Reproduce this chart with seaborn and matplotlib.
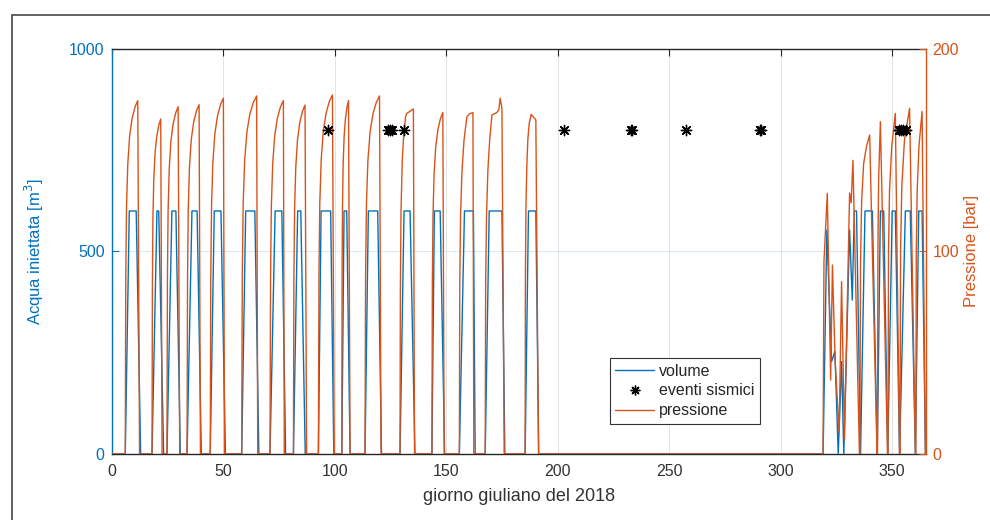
import matplotlib
matplotlib.use("Agg")
import matplotlib.pyplot as plt
from matplotlib.lines import Line2D
import seaborn as sns

sns.set_style("white")
plt.rcParams["font.family"] = ["Liberation Sans", "DejaVu Sans"]

BLUE = "#0072BD"
ORANGE = "#D95319"
DARK = "#262626"

# ---------------- data ----------------
# injected volume [m3]: day / value breakpoints
vol_day = [0, 6.1, 7.9, 11.0, 13.0,
           18.1, 20.3, 21.1, 23.3,
           24.8, 27.0, 28.8, 30.8,
           33.8, 36.0, 38.3, 40.2,
           44.2, 46.0, 49.0, 51.0,
           58.3, 60.1, 64.2, 66.0,
           71.0, 73.3, 76.3, 78.0,
           81.5, 83.4, 84.8, 86.8,
           92.7, 93.9, 98.2, 99.6,
           103.2, 104.2, 105.4, 106.9,
           113.6, 115.1, 119.3, 121.0,
           129.3, 131.1, 133.8, 136.0,
           143.6, 144.7, 147.3, 149.3,
           155.9, 158.2, 162.2, 163.0,
           167.5, 169.3, 175.0, 176.3,
           185.4, 186.9, 190.2, 191.5,
           319.0, 320.7, 322.8, 324.3, 325.8, 327.3, 328.3,
           330.9, 332.1, 333.0, 334.0, 335.8,
           337.8, 341.1, 343.3,
           344.7, 346.2, 348.0,
           350.0, 351.4, 353.3,
           355.9, 358.1, 360.4,
           361.9, 363.4, 364.9]
vol_m3 = [0, 0, 600, 600, 0,
          0, 600, 600, 0,
          0, 600, 600, 0,
          0, 600, 600, 0,
          0, 600, 600, 0,
          0, 600, 600, 0,
          0, 600, 600, 0,
          0, 600, 600, 0,
          0, 600, 600, 0,
          0, 600, 600, 0,
          0, 600, 600, 0,
          0, 600, 600, 0,
          0, 600, 600, 0,
          0, 600, 600, 0,
          0, 600, 600, 0,
          0, 600, 600, 0,
          0, 553, 228, 253, 0, 228, 0,
          553, 380, 600, 600, 0,
          600, 600, 0,
          600, 600, 0,
          600, 600, 0,
          600, 600, 0,
          600, 600, 0]

# well-head pressure [bar]: day / value breakpoints
press_day = [0,
             6.1, 6.32, 6.66, 7.22, 8.06, 9.18, 10.47, 11.7, 12.5,
             18.1, 18.26, 18.49, 18.88, 19.47, 20.25, 21.14, 22.0, 22.6,
             24.8, 25.0, 25.3, 25.8, 26.55, 27.55, 28.7, 29.8, 30.5,
             33.8, 34.02, 34.34, 34.88, 35.69, 36.77, 38.01, 39.2, 39.8,
             44.2, 44.44, 44.79, 45.38, 46.27, 47.45, 48.8, 50.1, 50.6,
             58.3, 58.57, 58.97, 59.64, 60.65, 61.99, 63.53, 65.0, 65.5,
             71.0, 71.24, 71.6, 72.2, 73.1, 74.3, 75.68, 77.0, 77.4,
             81.5, 81.71, 82.02, 82.54, 83.32, 84.36, 85.56, 86.7, 87.4,
             92.7, 92.95, 93.33, 93.96, 94.91, 96.17, 97.61, 99.0, 99.8,
             103.2, 103.32, 103.5, 103.8, 104.25, 104.85, 105.54, 106.2, 106.9,
             113.6, 113.86, 114.25, 114.9, 115.88, 117.18, 118.67, 120.1, 120.8,
             129.3, 129.45, 129.75, 130.3, 131.0, 131.8, 132.3, 133.5, 135.3, 135.8,
             143.6, 143.8, 144.09, 144.58, 145.32, 146.3, 147.42, 148.5, 149.1,
             155.9, 156.1, 156.45, 157.1, 158.0, 159.3, 160.5, 162.0, 162.4,
             167.5, 167.7, 168.1, 168.7, 169.5, 170.5, 172.7, 173.6, 174.2, 175.0, 176.0,
             185.4, 185.52, 185.75, 186.1, 186.6, 187.2, 188.1, 190.2, 191.4,
             319.0, 319.4, 320.9, 322.4, 323.2, 324.4, 326.2, 327.3, 328.6,
             330.9, 331.6, 332.4, 335.3,
             335.5, 335.8, 336.3, 337.2, 338.5, 339.9, 343.2,
             343.4, 343.6, 343.9, 344.7, 347.9,
             348.1, 348.35, 348.8, 349.8, 351.4, 353.3,
             353.5, 353.75, 354.3, 355.5, 357.8, 360.4,
             360.6, 360.8, 361.2, 362.0, 363.4, 364.9]
press_bar = [0,
             0, 87.3, 122.2, 143.1, 157.1, 165.8, 171.4, 174.5, 0,
             0, 82.7, 115.8, 135.6, 148.9, 157.1, 162.4, 165.4, 0,
             0, 85.8, 120.1, 140.6, 154.4, 162.9, 168.4, 171.5, 0,
             0, 86.3, 120.8, 141.5, 155.3, 163.9, 169.4, 172.5, 0,
             0, 87.9, 123.0, 144.1, 158.1, 166.9, 172.5, 175.7, 0,
             0, 88.4, 123.8, 145.0, 159.1, 168.0, 173.6, 176.8, 0,
             0, 87.3, 122.2, 143.1, 157.1, 165.8, 171.4, 174.5, 0,
             0, 86.2, 120.6, 141.3, 155.1, 163.7, 169.2, 172.3, 0,
             0, 88.7, 124.1, 145.4, 159.6, 168.4, 174.1, 177.3, 0,
             0, 87.3, 122.2, 143.1, 157.1, 165.8, 171.4, 174.5, 0,
             0, 88.4, 123.8, 145.0, 159.1, 168.0, 173.6, 176.8, 0,
             0, 80.0, 120.0, 145.0, 158.0, 166.6, 168.2, 169.0, 170.4, 0,
             0, 84.3, 118.0, 138.3, 151.7, 160.2, 165.6, 168.6, 0,
             0, 85.0, 118.0, 140.0, 155.0, 166.6, 168.0, 168.6, 0,
             0, 85.0, 118.0, 140.0, 155.0, 167.4, 168.6, 170.0, 175.7, 170.7, 0,
             0, 85.0, 120.0, 140.0, 155.0, 163.0, 167.7, 165.0, 0,
             0, 95.0, 128.7, 36.5, 93.3, 46.4, 10.4, 85.1, 7.0,
             128.9, 124.0, 145.0, 0,
             0, 95.0, 125.0, 143.5, 152.0, 157.5, 0,
             0, 100.0, 135.0, 164.1, 0,
             0, 100.0, 130.0, 152.0, 168.2, 0,
             0, 100.0, 132.0, 155.0, 170.7, 0,
             0, 100.0, 130.0, 152.0, 169.1, 0]

# seismic events (plotted at 800 on the volume axis)
ev_day = [96.8, 124.0, 124.6, 125.6, 131.0, 202.9, 233.0, 233.2,
          257.7, 290.9, 291.0, 352.9, 353.8, 355.0, 356.3]
ev_m3 = [800] * len(ev_day)

x_ticks = [0, 50, 100, 150, 200, 250, 300, 350]
vol_ticks = [0, 500, 1000]
press_ticks = [0, 100, 200]

# ---------------- figure ----------------
fig = plt.figure(figsize=(9.9, 5.2), dpi=100)
ax = fig.add_axes([0.1128, 0.127, 0.8222, 0.7788])
ax2 = ax.twinx()

sns.lineplot(x=vol_day, y=vol_m3, ax=ax, color=BLUE, lw=1.0,
             estimator=None, sort=False, legend=False, zorder=3)
sns.lineplot(x=press_day, y=press_bar, ax=ax2, color=ORANGE, lw=1.0,
             estimator=None, sort=False, legend=False, zorder=3)
sns.scatterplot(x=ev_day, y=ev_m3, ax=ax2, transform=ax.transData,
                marker=(8, 2, 0), color="black", s=55, linewidth=1.0,
                legend=False, zorder=5)

ax.set_xlim(0, 365)
ax.set_ylim(0, 1000)
ax2.set_ylim(0, 200)
ax.set_xticks(x_ticks)
ax.set_yticks(vol_ticks)
ax2.set_yticks(press_ticks)

fs = 11.5
ax.tick_params(axis="x", direction="in", length=5, width=0.8, color=DARK,
               labelcolor="#333333", labelsize=fs, top=True, pad=7)
ax.tick_params(axis="y", direction="in", length=5, width=0.8, color=BLUE,
               labelcolor=BLUE, labelsize=fs, left=True, right=False, pad=5)
ax2.tick_params(axis="y", direction="in", length=5, width=0.8, color=ORANGE,
                labelcolor=ORANGE, labelsize=fs, right=True, pad=5)

ax.grid(True, axis="x", color=DARK, alpha=0.13, lw=0.7)
ax.grid(True, axis="y", color=BLUE, alpha=0.15, lw=0.7)
ax.set_axisbelow(True)

for s in ["top", "bottom"]:
    ax.spines[s].set_color(DARK)
    ax.spines[s].set_linewidth(1.0)
ax.spines["left"].set_color(BLUE)
ax.spines["left"].set_linewidth(1.0)
ax.spines["right"].set_visible(False)
for s in ["top", "bottom", "left"]:
    ax2.spines[s].set_visible(False)
ax2.spines["right"].set_color(ORANGE)
ax2.spines["right"].set_linewidth(1.0)

ax.set_xlabel("giorno giuliano del 2018", fontsize=13, color="#333333")
ax.xaxis.set_label_coords(0.5, -0.085)
ax.set_ylabel("Acqua iniettata [m$^3$]", fontsize=12, color=BLUE)
ax.yaxis.set_label_coords(-0.081, 0.5)
ax2.set_ylabel("Pressione [bar]", fontsize=12, color=ORANGE)
ax2.yaxis.set_label_coords(1.0474, 0.5)

handles = [Line2D([], [], color=BLUE, lw=1.0),
           Line2D([], [], color="black", marker=(8, 2, 0), ls="none",
                  markersize=7, markeredgewidth=1.0),
           Line2D([], [], color=ORANGE, lw=1.0)]
leg = ax2.legend(handles, ["volume", "eventi sismici", "pressione"],
                 loc="upper left", bbox_to_anchor=(0.612, 0.237),
                 borderaxespad=0, fontsize=11.5, frameon=True,
                 fancybox=False, framealpha=1, edgecolor="#333333",
                 handlelength=2.4, handletextpad=0.3, labelspacing=0.3,
                 borderpad=0.35)
leg.get_frame().set_linewidth(0.8)

# outer frame of the original screenshot
fig.add_artist(Line2D([12 / 990, 12 / 990], [0, 1 - 15 / 520],
                      transform=fig.transFigure, color="#555555", lw=1.3))
fig.add_artist(Line2D([12 / 990, 1], [1 - 15 / 520, 1 - 15 / 520],
                      transform=fig.transFigure, color="#555555", lw=1.3))

fig.savefig("out.png", dpi=100, facecolor="white")
